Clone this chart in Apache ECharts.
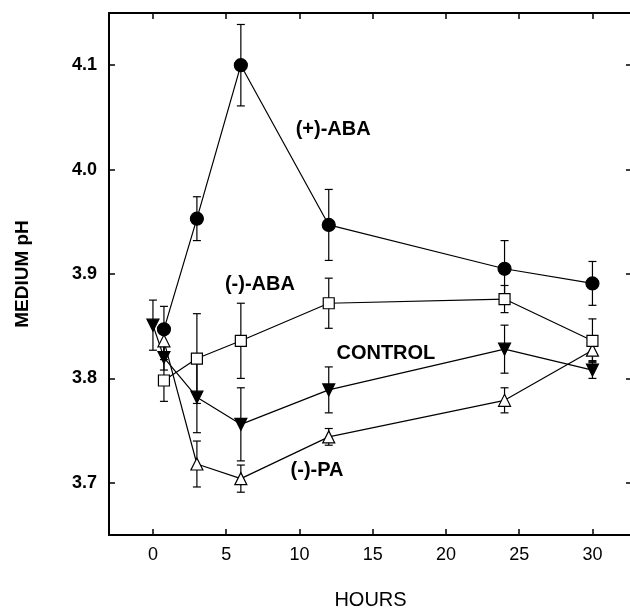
<!DOCTYPE html>
<html>
<head>
<meta charset="utf-8">
<script src="https://cdn.jsdelivr.net/npm/echarts@6/dist/echarts.min.js"></script>
<style>
  html, body { margin: 0; padding: 0; background: #fff; }
  #main { width: 630px; height: 614px; }
</style>
</head>
<body>
<div id="main"></div>
<script>
// sampling times (hours)
var controlTimes = [0, 0.75, 3, 6, 12, 24, 30];
var times = [0.75, 3, 6, 12, 24, 30];

// medium pH, means and error
var plusABA = [3.847, 3.953, 4.100, 3.947, 3.905, 3.891];
var plusABAErr = [0.022, 0.021, 0.039, 0.034, 0.027, 0.021];
var minusABA = [3.798, 3.819, 3.836, 3.872, 3.876, 3.836];
var minusABAErr = [0.020, 0.043, 0.036, 0.024, 0.013, 0.021];
var control = [3.851, 3.820, 3.782, 3.756, 3.789, 3.828, 3.808];
var controlErr = [0.024, 0.012, 0.034, 0.035, 0.022, 0.023, 0.008];
var minusPA = [3.836, 3.718, 3.704, 3.744, 3.779, 3.827];
var minusPAErr = [0.012, 0.022, 0.013, 0.008, 0.012, 0.010];

var xTicks = [0, 5, 10, 15, 20, 25, 30];
var yTicks = [3.7, 3.8, 3.9, 4.0, 4.1];

// curve labels [x, y, text]
var curveLabels = [
  [12.3, 4.038, '(+)-ABA'],
  [7.3, 3.890, '(-)-ABA'],
  [15.9, 3.824, 'CONTROL'],
  [11.2, 3.712, '(-)-PA']
];

var font = "'Liberation Sans', Arial, sans-serif";

function pairs(xs, ys) {
  return xs.map(function (x, i) { return [x, ys[i]]; });
}
function errData(xs, ys, es) {
  return xs.map(function (x, i) { return [x, ys[i] - es[i], ys[i] + es[i]]; });
}

function errorSeries(xs, ys, es) {
  return {
    type: 'custom',
    xAxisIndex: 0, yAxisIndex: 0,
    z: 1,
    silent: true,
    data: errData(xs, ys, es),
    renderItem: function (params, api) {
      var lo = api.coord([api.value(0), api.value(1)]);
      var hi = api.coord([api.value(0), api.value(2)]);
      var w = 4;
      var st = { stroke: '#000', lineWidth: 1.2 };
      return {
        type: 'group',
        children: [
          { type: 'line', shape: { x1: lo[0], y1: lo[1], x2: hi[0], y2: hi[1] }, style: st },
          { type: 'line', shape: { x1: lo[0] - w, y1: lo[1], x2: lo[0] + w, y2: lo[1] }, style: st },
          { type: 'line', shape: { x1: hi[0] - w, y1: hi[1], x2: hi[0] + w, y2: hi[1] }, style: st }
        ]
      };
    }
  };
}

function lineSeries(xs, ys, symbol, size, filled, rotate) {
  return {
    type: 'line',
    xAxisIndex: 0, yAxisIndex: 0,
    z: 3,
    data: pairs(xs, ys),
    symbol: symbol,
    symbolSize: size,
    symbolRotate: rotate || 0,
    showAllSymbol: true,
    lineStyle: { color: '#000', width: 1.2 },
    itemStyle: { color: filled ? '#000' : '#fff', borderColor: '#000', borderWidth: 1.2 },
    animation: false
  };
}

var tickStyle = { inside: true, length: 6, lineStyle: { color: '#000', width: 1.5 } };
var axisLineStyle = { show: true, onZero: false, lineStyle: { color: '#000', width: 2 } };

var option = {
  animation: false,
  grid: { left: 109, top: 13, width: 523, height: 522, containLabel: false, outerBoundsMode: 'none' },
  xAxis: [{
    type: 'value', min: -3, max: 32.7, position: 'bottom',
    name: 'HOURS', nameLocation: 'middle', nameGap: 55,
    nameTextStyle: { fontFamily: font, fontSize: 20, color: '#000' },
    axisLine: axisLineStyle,
    axisTick: Object.assign({ customValues: xTicks }, tickStyle),
    axisLabel: { customValues: xTicks, margin: 11, fontFamily: font, fontSize: 18, fontWeight: 500, color: '#000' },
    splitLine: { show: false }
  }, {
    type: 'value', min: -3, max: 32.7, position: 'top',
    axisLine: axisLineStyle,
    axisTick: Object.assign({ customValues: xTicks }, tickStyle),
    axisLabel: { show: false },
    splitLine: { show: false }
  }],
  yAxis: [{
    type: 'value', min: 3.65, max: 4.15, position: 'left',
    name: 'MEDIUM pH', nameLocation: 'middle', nameGap: 77,
    nameTextStyle: { fontFamily: font, fontSize: 19, fontWeight: 'bold', color: '#000' },
    axisLine: axisLineStyle,
    axisTick: Object.assign({ customValues: yTicks }, tickStyle),
    axisLabel: {
      customValues: yTicks, margin: 12, fontFamily: font, fontSize: 18, fontWeight: 'bold', color: '#000',
      formatter: function (v) { return v.toFixed(1); }
    },
    splitLine: { show: false }
  }, {
    type: 'value', min: 3.65, max: 4.15, position: 'right',
    axisLine: axisLineStyle,
    axisTick: Object.assign({ customValues: yTicks }, tickStyle),
    axisLabel: { show: false },
    splitLine: { show: false }
  }],
  series: [
    errorSeries(times, plusABA, plusABAErr),
    errorSeries(times, minusABA, minusABAErr),
    errorSeries(controlTimes, control, controlErr),
    errorSeries(times, minusPA, minusPAErr),
    lineSeries(times, minusPA, 'triangle', 12, false),
    lineSeries(controlTimes, control, 'triangle', 12, true, 180),
    lineSeries(times, minusABA, 'rect', 11, false),
    lineSeries(times, plusABA, 'circle', 13, true),
    {
      type: 'scatter',
      xAxisIndex: 0, yAxisIndex: 0,
      symbolSize: 0,
      silent: true,
      z: 5,
      itemStyle: { opacity: 1 },
      data: curveLabels.map(function (d) { return { value: [d[0], d[1]], name: d[2] }; }),
      label: {
        show: true, position: 'inside', formatter: '{b}', opacity: 1,
        fontFamily: font, fontSize: 20, fontWeight: 'bold', color: '#000'
      }
    }
  ]
};

var chart = echarts.init(document.getElementById('main'));
chart.setOption(option);
</script>
</body>
</html>
